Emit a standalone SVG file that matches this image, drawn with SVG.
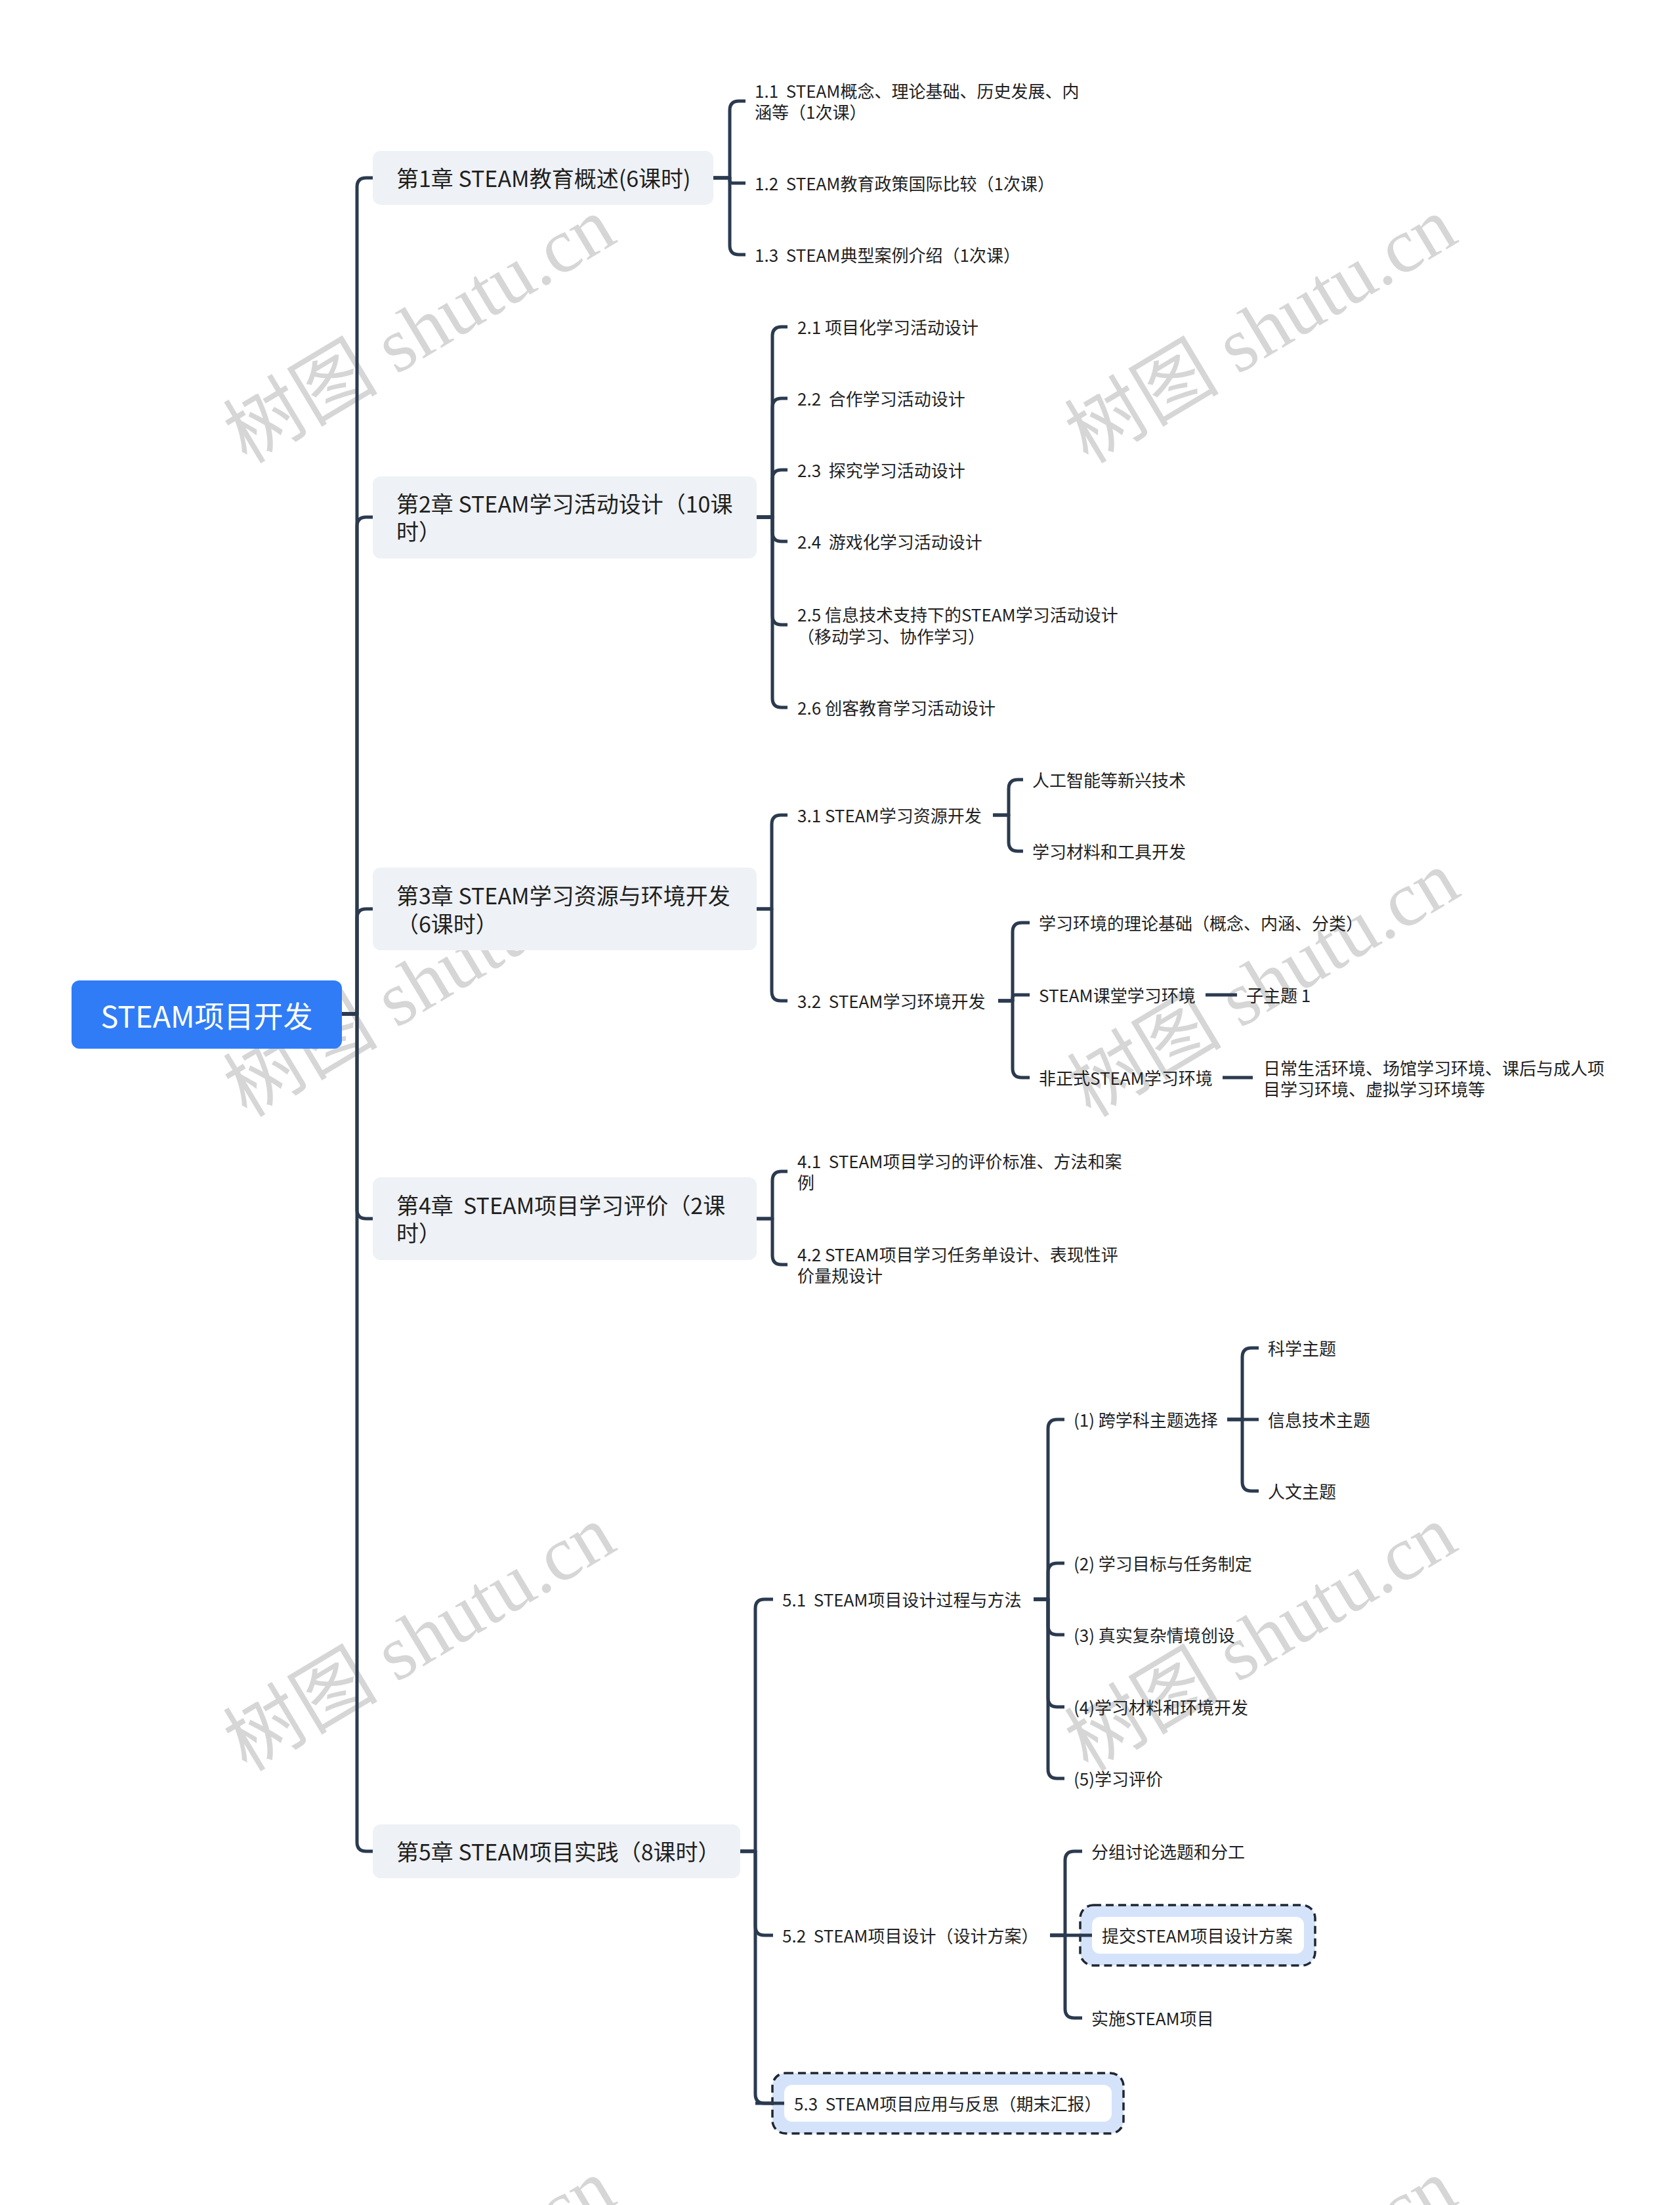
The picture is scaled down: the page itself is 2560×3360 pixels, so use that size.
<svg xmlns="http://www.w3.org/2000/svg" width="2560" height="3360" viewBox="0 0 2560 3360">
<style>
text { font-family: "Noto Sans CJK SC", "Noto Sans", sans-serif; fill: #1f1f1f; dominant-baseline: central; white-space: pre; }
.root-t { font-size: 45px; fill: #ffffff; text-anchor: middle; }
.ch { fill: #eef1f5; }
.ch-t { font-size: 34px; }
.lf { font-size: 26px; }
.conn path { fill: none; stroke: #2b3a4f; stroke-width: 5; stroke-linecap: butt; stroke-linejoin: round; }
.hl-out { fill: #d5e3fa; stroke: #1f2733; stroke-width: 3.5; stroke-dasharray: 12 7; }
.hl-in { fill: #ffffff; }
.wm { font-size: 118px; fill: #d6d6d6; dominant-baseline: alphabetic; }
.wm .s { font-family: "Liberation Serif", serif; }
</style>

<g id="watermarks">
<text class="wm" transform="translate(376,708) rotate(-31)">树图<tspan class="s"> shutu.cn</tspan></text>
<text class="wm" transform="translate(1658,708) rotate(-31)">树图<tspan class="s"> shutu.cn</tspan></text>
<text class="wm" transform="translate(376,1704) rotate(-31)">树图<tspan class="s"> shutu.cn</tspan></text>
<text class="wm" transform="translate(1662,1704) rotate(-31)">树图<tspan class="s"> shutu.cn</tspan></text>
<text class="wm" transform="translate(376,2701) rotate(-31)">树图<tspan class="s"> shutu.cn</tspan></text>
<text class="wm" transform="translate(1658,2701) rotate(-31)">树图<tspan class="s"> shutu.cn</tspan></text>
<text class="wm" transform="translate(376,3697) rotate(-31)">树图<tspan class="s"> shutu.cn</tspan></text>
<text class="wm" transform="translate(1658,3697) rotate(-31)">树图<tspan class="s"> shutu.cn</tspan></text>
</g>

<g id="connectors" class="conn">
<!-- root to chapters -->
<path d="M521 1545 H544 V285 Q544 271 558 271 H570"/>
<path d="M521 1545 H544 V802 Q544 788 558 788 H570"/>
<path d="M521 1545 H544 V1399 Q544 1385 558 1385 H570"/>
<path d="M521 1545 H544 V1843 Q544 1857 558 1857 H570"/>
<path d="M521 1545 H544 V2807 Q544 2821 558 2821 H570"/>
<!-- ch1 -->
<path d="M1087 271 H1112 V168 Q1112 154 1126 154 H1136"/>
<path d="M1087 271 H1112 V275 Q1112 279 1116 279 H1136"/>
<path d="M1087 271 H1112 V374 Q1112 388 1126 388 H1136"/>
<!-- ch2 -->
<path d="M1153 788 H1177 V512 Q1177 498 1191 498 H1200"/>
<path d="M1153 788 H1177 V621 Q1177 607 1191 607 H1200"/>
<path d="M1153 788 H1177 V730 Q1177 716 1191 716 H1200"/>
<path d="M1153 788 H1177 V811 Q1177 825 1191 825 H1200"/>
<path d="M1153 788 H1177 V938 Q1177 952 1191 952 H1200"/>
<path d="M1153 788 H1177 V1064 Q1177 1078 1191 1078 H1200"/>
<!-- ch3 -->
<path d="M1153 1385 H1176 V1256 Q1176 1242 1190 1242 H1200"/>
<path d="M1153 1385 H1176 V1511 Q1176 1525 1190 1525 H1200"/>
<path d="M1513 1242 H1537 V1202 Q1537 1188 1551 1188 H1559"/>
<path d="M1513 1242 H1537 V1283 Q1537 1297 1551 1297 H1559"/>
<path d="M1521 1525 H1543 V1420 Q1543 1406 1557 1406 H1569"/>
<path d="M1521 1525 H1543 V1520 Q1543 1516 1547 1516 H1569"/>
<path d="M1521 1525 H1543 V1628 Q1543 1642 1557 1642 H1569"/>
<path d="M1837 1516 H1885"/>
<path d="M1863 1642 H1909"/>
<!-- ch4 -->
<path d="M1153 1857 H1177 V1799 Q1177 1785 1191 1785 H1200"/>
<path d="M1153 1857 H1177 V1913 Q1177 1927 1191 1927 H1200"/>
<!-- ch5 -->
<path d="M1128 2821 H1151 V2451 Q1151 2437 1165 2437 H1178"/>
<path d="M1128 2821 H1151 V2935 Q1151 2949 1165 2949 H1178"/>
<path d="M1128 2821 H1151 V3191 Q1151 3205 1165 3205 H1195"/>
<!-- 5.1 -->
<path d="M1575 2437 H1597 V2177 Q1597 2163 1611 2163 H1622"/>
<path d="M1575 2437 H1597 V2396 Q1597 2382 1611 2382 H1622"/>
<path d="M1575 2437 H1597 V2477 Q1597 2491 1611 2491 H1622"/>
<path d="M1575 2437 H1597 V2587 Q1597 2601 1611 2601 H1622"/>
<path d="M1575 2437 H1597 V2696 Q1597 2710 1611 2710 H1622"/>
<!-- (1) -->
<path d="M1870 2163 H1893 V2068 Q1893 2054 1907 2054 H1918"/>
<path d="M1870 2163 H1918"/>
<path d="M1870 2163 H1893 V2258 Q1893 2272 1907 2272 H1918"/>
<!-- 5.2 -->
<path d="M1600 2949 H1623 V2835 Q1623 2821 1637 2821 H1649"/>
<path d="M1600 2949 H1623 V3061 Q1623 3075 1637 3075 H1649"/>
</g>

<g id="root">
<rect x="109" y="1494" width="412" height="104" rx="12" fill="#2f7cf6"/>
<text class="root-t" x="315" y="1546">STEAM项目开发</text>
</g>

<g id="ch1">
<rect class="ch" x="568" y="230" width="519" height="82" rx="12"/>
<text class="ch-t" x="604" y="270">第1章 STEAM教育概述(6课时)</text>
</g>
<g id="ch2">
<rect class="ch" x="568" y="726" width="585" height="125" rx="12"/>
<text class="ch-t" x="604" y="766">第2章 STEAM学习活动设计（10课</text>
<text class="ch-t" x="604" y="808">时）</text>
</g>
<g id="ch3">
<rect class="ch" x="568" y="1322" width="585" height="126" rx="12"/>
<text class="ch-t" x="604" y="1363">第3章 STEAM学习资源与环境开发</text>
<text class="ch-t" x="604" y="1406">（6课时）</text>
</g>
<g id="ch4">
<rect class="ch" x="568" y="1794" width="585" height="126" rx="12"/>
<text class="ch-t" x="604" y="1835">第4章  STEAM项目学习评价（2课</text>
<text class="ch-t" x="604" y="1877">时）</text>
</g>
<g id="ch5">
<rect class="ch" x="568" y="2780" width="560" height="82" rx="12"/>
<text class="ch-t" x="604" y="2820">第5章 STEAM项目实践（8课时）</text>
</g>

<g id="n1-1"><text class="lf" x="1150" y="137">1.1  STEAM概念、理论基础、历史发展、内</text><text class="lf" x="1150" y="169">涵等（1次课）</text></g>
<g id="n1-2"><text class="lf" x="1150" y="278">1.2  STEAM教育政策国际比较（1次课）</text></g>
<g id="n1-3"><text class="lf" x="1150" y="387">1.3  STEAM典型案例介绍（1次课）</text></g>

<g id="n2-1"><text class="lf" x="1215" y="497">2.1 项目化学习活动设计</text></g>
<g id="n2-2"><text class="lf" x="1215" y="606">2.2  合作学习活动设计</text></g>
<g id="n2-3"><text class="lf" x="1215" y="715">2.3  探究学习活动设计</text></g>
<g id="n2-4"><text class="lf" x="1215" y="824">2.4  游戏化学习活动设计</text></g>
<g id="n2-5"><text class="lf" x="1215" y="935">2.5 信息技术支持下的STEAM学习活动设计</text><text class="lf" x="1215" y="968">（移动学习、协作学习）</text></g>
<g id="n2-6"><text class="lf" x="1215" y="1077">2.6 创客教育学习活动设计</text></g>

<g id="n3-1"><text class="lf" x="1215" y="1241">3.1 STEAM学习资源开发</text></g>
<g id="n3-1-1"><text class="lf" x="1573" y="1187">人工智能等新兴技术</text></g>
<g id="n3-1-2"><text class="lf" x="1573" y="1296">学习材料和工具开发</text></g>
<g id="n3-2"><text class="lf" x="1215" y="1524">3.2  STEAM学习环境开发</text></g>
<g id="n3-2-1"><text class="lf" x="1583" y="1405">学习环境的理论基础（概念、内涵、分类）</text></g>
<g id="n3-2-2"><text class="lf" x="1583" y="1515">STEAM课堂学习环境</text></g>
<g id="n3-2-2-1"><text class="lf" x="1899" y="1515">子主题 1</text></g>
<g id="n3-2-3"><text class="lf" x="1583" y="1641">非正式STEAM学习环境</text></g>
<g id="n3-2-3-1"><text class="lf" x="1925" y="1626">日常生活环境、场馆学习环境、课后与成人项</text><text class="lf" x="1925" y="1658">目学习环境、虚拟学习环境等</text></g>

<g id="n4-1"><text class="lf" x="1215" y="1768">4.1  STEAM项目学习的评价标准、方法和案</text><text class="lf" x="1215" y="1800">例</text></g>
<g id="n4-2"><text class="lf" x="1215" y="1910">4.2 STEAM项目学习任务单设计、表现性评</text><text class="lf" x="1215" y="1942">价量规设计</text></g>

<g id="n5-1"><text class="lf" x="1192" y="2436">5.1  STEAM项目设计过程与方法</text></g>
<g id="n5-1-1"><text class="lf" x="1636" y="2162">(1) 跨学科主题选择</text></g>
<g id="n5-1-1-1"><text class="lf" x="1932" y="2053">科学主题</text></g>
<g id="n5-1-1-2"><text class="lf" x="1932" y="2162">信息技术主题</text></g>
<g id="n5-1-1-3"><text class="lf" x="1932" y="2271">人文主题</text></g>
<g id="n5-1-2"><text class="lf" x="1636" y="2381">(2) 学习目标与任务制定</text></g>
<g id="n5-1-3"><text class="lf" x="1636" y="2490">(3) 真实复杂情境创设</text></g>
<g id="n5-1-4"><text class="lf" x="1636" y="2600">(4)学习材料和环境开发</text></g>
<g id="n5-1-5"><text class="lf" x="1636" y="2709">(5)学习评价</text></g>

<g id="n5-2"><text class="lf" x="1192" y="2948">5.2  STEAM项目设计（设计方案）</text></g>
<g id="n5-2-1"><text class="lf" x="1663" y="2820">分组讨论选题和分工</text></g>
<g id="n5-2-2">
<rect class="hl-out" x="1646" y="2903" width="358" height="92" rx="20"/>
<rect class="hl-in" x="1664" y="2921" width="323" height="56" rx="12"/>
<path d="M1600 2949 H1664" fill="none" stroke="#2b3a4f" stroke-width="5"/>
<text class="lf" x="1679" y="2948">提交STEAM项目设计方案</text>
</g>
<g id="n5-2-3"><text class="lf" x="1663" y="3074">实施STEAM项目</text></g>
<g id="n5-3">
<rect class="hl-out" x="1177" y="3159" width="535" height="92" rx="20"/>
<rect class="hl-in" x="1195" y="3177" width="499" height="56" rx="12"/>
<path d="M1151 3205 H1195" fill="none" stroke="#2b3a4f" stroke-width="5"/>
<text class="lf" x="1210" y="3204">5.3  STEAM项目应用与反思（期末汇报）</text>
</g>
</svg>
